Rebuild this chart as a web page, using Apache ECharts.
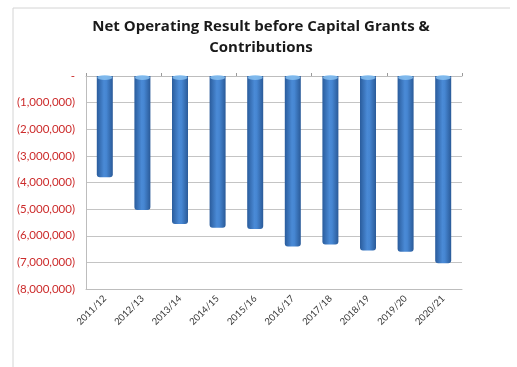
<!DOCTYPE html>
<html>
<head>
<meta charset="utf-8">
<script src="https://cdn.jsdelivr.net/npm/echarts@6/dist/echarts.min.js"></script>
<style>html,body{margin:0;padding:0;background:#fff}#c{width:517px;height:367px}</style>
</head>
<body>
<div id="c"></div>
<script>
const titleText = 'Net Operating Result before Capital Grants &\nContributions';
const categories = ['2011/12','2012/13','2013/14','2014/15','2015/16','2016/17','2017/18','2018/19','2019/20','2020/21'];
const values = [-3800000,-5030000,-5560000,-5700000,-5750000,-6400000,-6330000,-6550000,-6600000,-7030000];
const capValues = categories.map(() => 0);

function fmt(v){
  if (v === 0) return '-';
  const s = Math.abs(v).toLocaleString('en-US');
  return v < 0 ? '(' + s + ')' : s;
}

const chart = echarts.init(document.getElementById('c'), null, {renderer:'canvas'});
chart.setOption({
  animation:false,
  backgroundColor:'#fff',
  title:{
    text:titleText, left:256, top:11, textAlign:'center',
    textStyle:{fontFamily:'Open Sans', fontWeight:'bold', fontSize:15, color:'#1a1a1a', lineHeight:21}
  },
  graphic:[
    {type:'polyline', shape:{points:[[13,367],[13,8],[510,8]]}, style:{stroke:'#d4d4d4', lineWidth:1, fill:null}, silent:true}
  ],
  grid:{left:86, right:55, top:76, bottom:78},
  xAxis:[
    {type:'category', data:categories, position:'bottom', boundaryGap:true,
      axisLine:{onZero:false, lineStyle:{color:'#bdbdbd'}},
      axisTick:{show:false},
      axisLabel:{rotate:45, fontFamily:'Lato', fontSize:9.5, color:'#3a3a3a', margin:8, interval:0}
    },
    {type:'category', data:categories, position:'top', boundaryGap:true,
      axisLine:{lineStyle:{color:'#bdbdbd'}},
      axisTick:{show:true, length:3, inside:false, lineStyle:{color:'#9a9a9a'}},
      axisLabel:{show:false}
    }
  ],
  yAxis:{
    type:'value', min:-8000000, max:0, interval:1000000,
    axisLine:{show:true, lineStyle:{color:'#bdbdbd'}},
    axisTick:{show:false},
    splitLine:{lineStyle:{color:'#c4c4c4'}},
    axisLabel:{formatter:fmt, color:'#cc2b2b', fontFamily:'Lato', fontSize:11.5, margin:11}
  },
  series:[
    {type:'bar', data:values, barWidth:16, xAxisIndex:0,
      itemStyle:{color:new echarts.graphic.LinearGradient(0,0,1,0,[
        {offset:0,color:'#2a5c9c'},{offset:0.45,color:'#4a8ad6'},{offset:0.6,color:'#4686d2'},{offset:1,color:'#2a5a98'}
      ]), borderRadius:[0,0,3,3]}
    },
    {type:'scatter', data:capValues, xAxisIndex:0, symbol:'circle', symbolSize:[15,5], symbolOffset:[0,1.5],
      itemStyle:{color:'#8cc4f2'}, z:5, silent:true}
  ]
});
</script>
</body>
</html>
